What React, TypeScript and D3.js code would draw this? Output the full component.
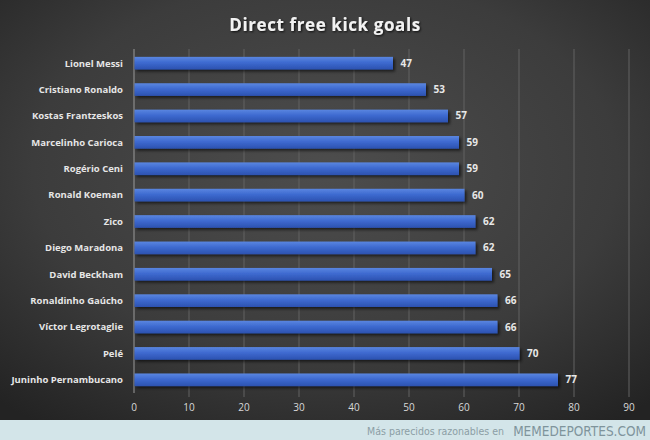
import React, { useRef, useEffect } from 'react';
import * as d3 from 'd3';

const players = [
  'Lionel Messi', 'Cristiano Ronaldo', 'Kostas Frantzeskos', 'Marcelinho Carioca',
  'Rogério Ceni', 'Ronald Koeman', 'Zico', 'Diego Maradona', 'David Beckham',
  'Ronaldinho Gaúcho', 'Víctor Legrotaglie', 'Pelé', 'Juninho Pernambucano',
];
const goals = [47, 53, 57, 59, 59, 60, 62, 62, 65, 66, 66, 70, 77];
const ticks = [0, 10, 20, 30, 40, 50, 60, 70, 80, 90];

const W = 650;
const H = 440;

const App: React.FC = () => {
  const svgRef = useRef<SVGSVGElement>(null);

  useEffect(() => {
    if (!svgRef.current) return;
    const svg = d3.select(svgRef.current);
    svg.selectAll('*').remove();

    const font = "'Open Sans', 'DejaVu Sans', sans-serif";
    const defs = svg.append('defs');

    // background radial gradient
    const bg = defs.append('radialGradient').attr('id', 'bg')
      .attr('cx', '50%').attr('cy', '40%').attr('r', '75%');
    bg.append('stop').attr('offset', '0%').attr('stop-color', '#4d4d4d');
    bg.append('stop').attr('offset', '60%').attr('stop-color', '#3c3c3c');
    bg.append('stop').attr('offset', '100%').attr('stop-color', '#232323');

    const barGrad = defs.append('linearGradient').attr('id', 'bar')
      .attr('x1', 0).attr('y1', 0).attr('x2', 0).attr('y2', 1);
    barGrad.append('stop').attr('offset', '0%').attr('stop-color', '#5a86e0');
    barGrad.append('stop').attr('offset', '45%').attr('stop-color', '#3e6ad0');
    barGrad.append('stop').attr('offset', '100%').attr('stop-color', '#2c52b0');

    const shadow = defs.append('filter').attr('id', 'shadow')
      .attr('x', '-5%').attr('y', '-30%').attr('width', '115%').attr('height', '180%');
    shadow.append('feDropShadow').attr('dx', 2).attr('dy', 2)
      .attr('stdDeviation', 1.5).attr('flood-color', '#000').attr('flood-opacity', 0.6);

    const txtShadow = defs.append('filter').attr('id', 'tshadow');
    txtShadow.append('feDropShadow').attr('dx', 1).attr('dy', 1)
      .attr('stdDeviation', 0.8).attr('flood-color', '#000').attr('flood-opacity', 0.8);

    svg.append('rect').attr('width', W).attr('height', 420).attr('fill', 'url(#bg)');

    const x = d3.scaleLinear().domain([0, 90]).range([134, 629]);
    const y = d3.scaleBand<string>().domain(players).range([50, 393]).paddingInner(0.52).paddingOuter(0.26);

    // title
    svg.append('text')
      .attr('x', 325).attr('y', 31)
      .attr('text-anchor', 'middle')
      .style('font-family', font).style('font-size', '17px').style('font-weight', 'bold')
      .style('letter-spacing', '0.6px')
      .attr('fill', '#f2f2f2').attr('filter', 'url(#tshadow)')
      .text('Direct free kick goals');

    // gridlines
    svg.append('g').selectAll('line').data(ticks.slice(1)).enter().append('line')
      .attr('x1', d => x(d)).attr('x2', d => x(d))
      .attr('y1', 49).attr('y2', 397)
      .attr('stroke', '#626262').attr('stroke-width', 1);

    // axis line
    svg.append('line').attr('x1', x(0)).attr('x2', x(0)).attr('y1', 49).attr('y2', 393)
      .attr('stroke', '#9a9a9a').attr('stroke-width', 1);

    // tick labels
    svg.append('g').selectAll('text').data(ticks).enter().append('text')
      .attr('x', d => x(d)).attr('y', 411)
      .attr('text-anchor', 'middle')
      .style('font-family', font).style('font-size', '10px')
      .attr('fill', '#d9d9d9')
      .text(d => d);

    // bars
    svg.append('g').selectAll('rect').data(goals).enter().append('rect')
      .attr('x', x(0) + 0.5)
      .attr('y', (d, i) => y(players[i])!)
      .attr('width', d => x(d) - x(0))
      .attr('height', y.bandwidth())
      .attr('fill', 'url(#bar)')
      .attr('filter', 'url(#shadow)');

    // value labels
    svg.append('g').selectAll('text').data(goals).enter().append('text')
      .attr('x', d => x(d) + 8)
      .attr('y', (d, i) => y(players[i])! + y.bandwidth() / 2)
      .attr('dy', '0.35em')
      .style('font-family', font).style('font-size', '10px').style('font-weight', 'bold')
      .attr('fill', '#e8e8e8')
      .text(d => d);

    // category labels
    svg.append('g').selectAll('text').data(players).enter().append('text')
      .attr('x', 123)
      .attr('y', d => y(d)! + y.bandwidth() / 2)
      .attr('dy', '0.35em')
      .attr('text-anchor', 'end')
      .style('font-family', font).style('font-size', '9.5px').style('font-weight', 'bold')
      .attr('fill', '#e6e6e6')
      .text(d => d);

    // footer
    const footFont = "'DejaVu Sans Condensed', 'DejaVu Sans', sans-serif";
    svg.append('rect').attr('y', 420).attr('width', W).attr('height', 20).attr('fill', '#d3e5e9');
    svg.append('text')
      .attr('x', 504).attr('y', 435)
      .attr('text-anchor', 'end')
      .style('font-family', footFont).style('font-size', '10.5px')
      .attr('fill', '#8c9ea5')
      .text('Más parecidos razonables en');
    svg.append('text')
      .attr('x', 646).attr('y', 436)
      .attr('text-anchor', 'end')
      .style('font-family', footFont).style('font-size', '13.5px')
      .attr('fill', '#7f949c')
      .text('MEMEDEPORTES.COM');
  }, []);

  return (
    <div style={{ position: 'absolute', left: 0, top: 0 }}>
      <svg ref={svgRef} width={W} height={H} style={{ display: 'block' }}></svg>
    </div>
  );
};

export default App;
